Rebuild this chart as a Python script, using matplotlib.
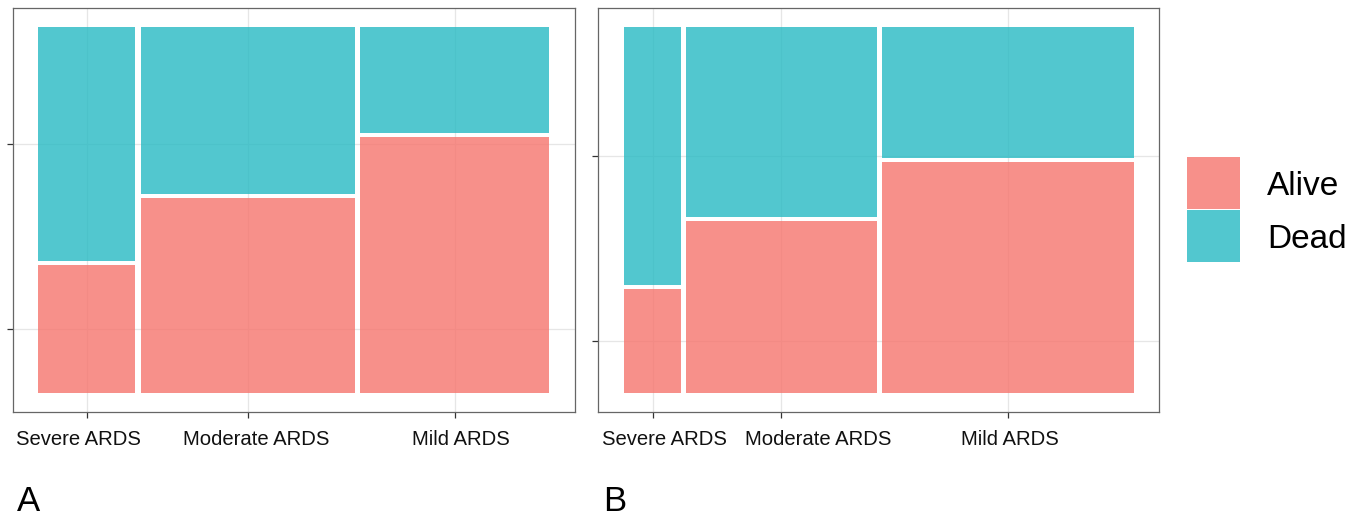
import matplotlib
matplotlib.use("Agg")
import matplotlib.pyplot as plt
from matplotlib.patches import Rectangle
from matplotlib.transforms import ScaledTranslation

plt.rcParams['font.family'] = ['Liberation Sans', 'DejaVu Sans']

# --- data ---
groups = ['Severe ARDS', 'Moderate ARDS', 'Mild ARDS']
outcomes = ['Alive', 'Dead']
# share of patients in each ARDS group (column widths)
share_a = [0.194, 0.428, 0.378]
share_b = [0.115, 0.381, 0.504]
# fraction dead within each group
dead_a = [0.646, 0.462, 0.294]
dead_b = [0.713, 0.525, 0.363]

colors = {'Alive': '#F6746D', 'Dead': '#27BAC3'}
ALPHA = 0.8
GAP = 0.01
W, H = 1369, 519

# the category labels in the original were nudged sideways a bit (pixels)
nudge_a = [-8, 8, 6]
nudge_b = [12, 37, 2]


def mosaic(ax, share, dead, nudge):
    usable = 1 - GAP * (len(share) - 1)
    x = 0.0
    centers = []
    first = None
    for s, d in zip(share, dead):
        w = s * usable
        h_alive = (1 - d) * (1 - GAP)
        ax.add_patch(Rectangle((x, 0), w, h_alive, fc=colors['Alive'],
                               alpha=ALPHA, lw=0, zorder=2))
        ax.add_patch(Rectangle((x, h_alive + GAP), w, 1 - h_alive - GAP,
                               fc=colors['Dead'], alpha=ALPHA, lw=0, zorder=2))
        if first is None:
            first = h_alive
        centers.append(x + w / 2)
        x += w + GAP

    # y ticks sit at the middle of the first column's segments (ggmosaic style)
    yt = [first / 2, first + GAP + (1 - first - GAP) / 2]
    ax.set_xlim(-0.05, 1.05)
    ax.set_ylim(-0.05, 1.05)
    ax.set_xticks(centers, groups)
    ax.set_yticks(yt, ['', ''])
    ax.grid(True, color='#E6E6E6', lw=0.9, zorder=0)
    ax.set_axisbelow(True)
    ax.tick_params(axis='both', length=4, width=0.9, color='#333333',
                   labelsize=14.6, labelcolor='#111111')
    ax.tick_params(axis='x', pad=9)
    for sp in ax.spines.values():
        sp.set_color('#666666')
        sp.set_linewidth(0.9)
    for lab, dx in zip(ax.get_xticklabels(), nudge):
        lab.set_transform(lab.get_transform() +
                          ScaledTranslation(dx / 100, 0, fig.dpi_scale_trans))


fig = plt.figure(figsize=(W / 100, H / 100), dpi=100)

bottom = 1 - 411.7 / H
height = (411.7 - 8.3) / H
ax_a = fig.add_axes([12.7 / W, bottom, (575 - 12.7) / W, height])
ax_b = fig.add_axes([598.3 / W, bottom, (1159 - 598.3) / W, height])

mosaic(ax_a, share_a, dead_a, nudge_a)
mosaic(ax_b, share_b, dead_b, nudge_b)

# panel letters
fig.text(17 / W, 1 - 511 / H, 'A', fontsize=25, va='baseline', ha='left')
fig.text(603 / W, 1 - 511 / H, 'B', fontsize=25, va='baseline', ha='left')

# legend drawn by hand to match the ggplot key layout
key_tops = [157, 210]
for name, top in zip(outcomes, key_tops):
    fig.add_artist(Rectangle((1187 / W, 1 - (top + 52) / H), 53 / W, 52 / H,
                             transform=fig.transFigure, fc=colors[name],
                             alpha=ALPHA, lw=0))
    fig.text(1267 / W, 1 - (top + 26) / H, name, fontsize=24,
             va='center_baseline', ha='left')

fig.savefig('out.png', dpi=100)
